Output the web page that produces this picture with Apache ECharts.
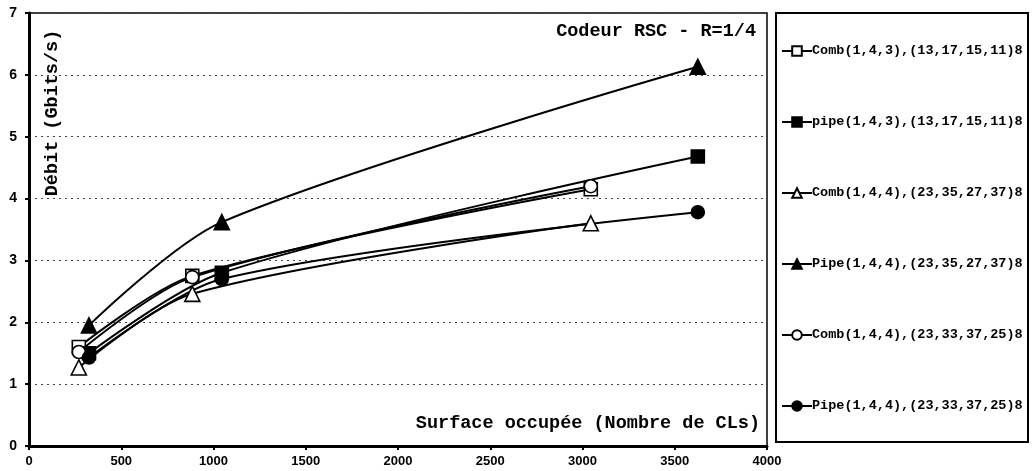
<!DOCTYPE html>
<html>
<head>
<meta charset="utf-8">
<script src="https://cdn.jsdelivr.net/npm/echarts@6/dist/echarts.min.js"></script>
<style>
  html, body { margin: 0; padding: 0; background: #fff; }
  #chart { width: 1032px; height: 471px; }
</style>
</head>
<body>
<div id="chart"></div>
<script>
// Surface (number of CLBs) for each architecture
const combX = [270, 885, 3045];
const pipeX = [325, 1045, 3625];

// Throughput (Gbits/s)
const comb143 = [1.60, 2.75, 4.15];
const pipe143 = [1.50, 2.80, 4.68];
const comb144a = [1.27, 2.46, 3.60];
const pipe144a = [1.95, 3.62, 6.13];
const comb144b = [1.52, 2.73, 4.20];
const pipe144b = [1.43, 2.70, 3.78];

const seriesNames = [
  'Comb(1,4,3),(13,17,15,11)8',
  'pipe(1,4,3),(13,17,15,11)8',
  'Comb(1,4,4),(23,35,27,37)8',
  'Pipe(1,4,4),(23,35,27,37)8',
  'Comb(1,4,4),(23,33,37,25)8',
  'Pipe(1,4,4),(23,33,37,25)8'
];

const xTicks = [0, 500, 1000, 1500, 2000, 2500, 3000, 3500, 4000];
const yTicks = [0, 1, 2, 3, 4, 5, 6, 7];

const mono = "'Liberation Mono', 'DejaVu Sans Mono', monospace";
const narrow = "'Liberation Sans Narrow', 'Liberation Sans', Arial, sans-serif";

function pairs(xs, ys) { return xs.map((x, i) => [x, ys[i]]); }

function makeSeries(name, xs, ys, symbol, filled, size) {
  return {
    name: name,
    type: 'line',
    smooth: 0.3,
    data: pairs(xs, ys),
    symbol: symbol,
    symbolSize: size,
    showSymbol: true,
    lineStyle: { color: '#000', width: 2 },
    itemStyle: { color: filled ? '#000' : '#fff', borderColor: '#000', borderWidth: 1.6 },
    emphasis: { disabled: true }
  };
}

const chart = echarts.init(document.getElementById('chart'), null, { renderer: 'canvas' });

chart.setOption({
  backgroundColor: '#fff',
  animation: false,
  grid: {
    left: 29, right: 265, top: 13, bottom: 25,
    show: true, borderColor: '#000', borderWidth: 1.5, backgroundColor: 'transparent'
  },
  xAxis: {
    type: 'value',
    min: xTicks[0], max: xTicks[xTicks.length - 1], interval: 500,
    axisLine: { show: true, onZero: false, lineStyle: { color: '#000', width: 3 } },
    axisTick: { show: true, inside: false, length: 4, lineStyle: { color: '#000', width: 2 } },
    axisLabel: {
      color: '#000', fontFamily: narrow, fontWeight: 'bold', fontSize: 13, margin: 9,
      formatter: v => String(v)
    },
    splitLine: { show: false }
  },
  yAxis: {
    type: 'value',
    min: yTicks[0], max: yTicks[yTicks.length - 1], interval: 1,
    axisLine: { show: true, onZero: false, lineStyle: { color: '#000', width: 3 } },
    axisTick: { show: true, inside: false, length: 4, lineStyle: { color: '#000', width: 2 } },
    axisLabel: { color: '#000', fontFamily: narrow, fontWeight: 'bold', fontSize: 14, margin: 12 },
    splitLine: { show: true, lineStyle: { color: '#444', width: 1, type: [2, 4] } }
  },
  legend: {
    orient: 'vertical',
    left: 776, top: 39,
    itemWidth: 30, itemHeight: 12, itemGap: 57,
    selectedMode: false,
    textStyle: { color: '#000', fontFamily: mono, fontWeight: 'bold', fontSize: 13.5, padding: [0, 0, 0, -5] },
    data: seriesNames
  },
  graphic: [
    {
      type: 'rect', left: 775, top: 12, z: 0,
      shape: { width: 252, height: 429 },
      style: { fill: 'transparent', stroke: '#000', lineWidth: 2 }
    },
    {
      type: 'text', x: 756, y: 31, z: 10,
      style: { text: 'Codeur RSC - R=1/4', fill: '#000', font: "bold 18.5px " + mono, align: 'right', verticalAlign: 'middle' }
    },
    {
      type: 'text', x: 760, y: 423, z: 10,
      style: { text: 'Surface occupée (Nombre de CLs)', fill: '#000', font: "bold 18.5px " + mono, align: 'right', verticalAlign: 'middle' }
    },
    {
      type: 'text', x: 52, y: 113, rotation: Math.PI / 2, z: 10,
      style: { text: 'Débit (Gbits/s)', fill: '#000', font: "bold 18.5px " + mono, align: 'center', verticalAlign: 'middle' }
    }
  ],
  series: [
    makeSeries(seriesNames[0], combX, comb143, 'rect', false, 13),
    makeSeries(seriesNames[1], pipeX, pipe143, 'rect', true, 13),
    makeSeries(seriesNames[2], combX, comb144a, 'triangle', false, 15),
    makeSeries(seriesNames[3], pipeX, pipe144a, 'triangle', true, 15),
    makeSeries(seriesNames[4], combX, comb144b, 'circle', false, 13),
    makeSeries(seriesNames[5], pipeX, pipe144b, 'circle', true, 13)
  ]
});
</script>
</body>
</html>
